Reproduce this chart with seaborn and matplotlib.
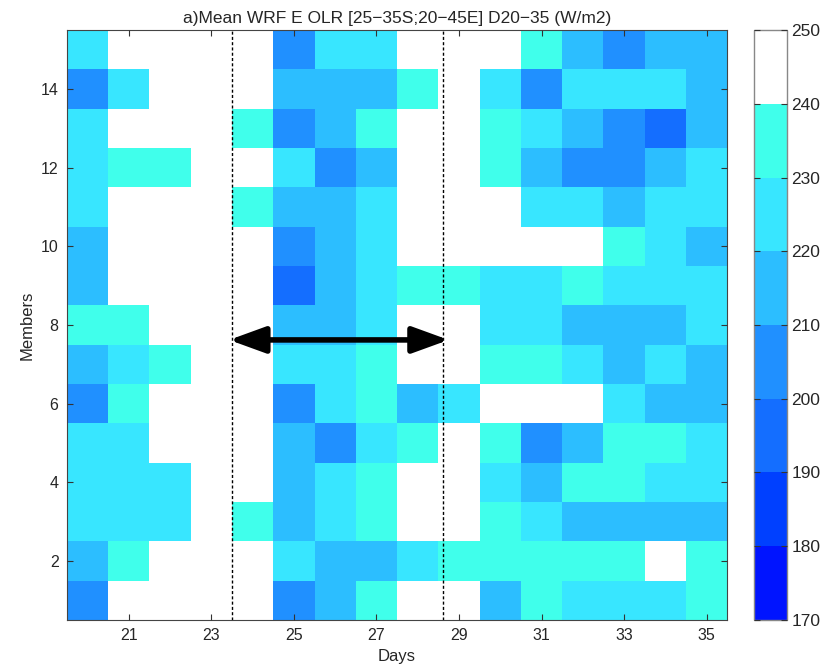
import seaborn as sns
import matplotlib.pyplot as plt
import matplotlib.colors as mcolors
import pandas as pd
import numpy as np

# Days and ensemble members
days = list(range(20, 36))
members = list(range(1, 16))

# Mean OLR (W/m2) per member (rows 1..15), per day (20..35)
olr = [
    [205, 245, 245, 245, 245, 205, 215, 235, 245, 245, 215, 235, 225, 225, 225, 235],  # 1
    [215, 235, 245, 245, 245, 225, 215, 215, 225, 235, 235, 235, 235, 235, 245, 235],  # 2
    [225, 225, 225, 245, 235, 215, 225, 235, 245, 245, 235, 225, 215, 215, 215, 215],  # 3
    [225, 225, 225, 245, 245, 215, 225, 235, 245, 245, 225, 215, 235, 235, 225, 225],  # 4
    [225, 225, 245, 245, 245, 215, 205, 225, 235, 245, 235, 205, 215, 235, 235, 225],  # 5
    [205, 235, 245, 245, 245, 205, 225, 235, 215, 225, 245, 245, 245, 225, 215, 215],  # 6
    [215, 225, 235, 245, 245, 225, 225, 235, 245, 245, 235, 235, 225, 215, 225, 215],  # 7
    [235, 235, 245, 245, 245, 215, 215, 225, 245, 245, 225, 225, 215, 215, 215, 225],  # 8
    [215, 245, 245, 245, 245, 195, 215, 225, 235, 235, 225, 225, 235, 225, 225, 225],  # 9
    [215, 245, 245, 245, 245, 205, 215, 225, 245, 245, 245, 245, 245, 235, 225, 215],  # 10
    [225, 245, 245, 245, 235, 215, 215, 225, 245, 245, 245, 225, 225, 215, 225, 225],  # 11
    [225, 235, 235, 245, 245, 225, 205, 215, 245, 245, 235, 215, 205, 205, 215, 225],  # 12
    [225, 245, 245, 245, 235, 205, 215, 235, 245, 245, 235, 225, 215, 205, 195, 215],  # 13
    [205, 225, 245, 245, 245, 215, 215, 215, 235, 245, 225, 205, 225, 225, 225, 215],  # 14
    [225, 245, 245, 245, 245, 205, 225, 225, 245, 245, 245, 235, 215, 205, 215, 215],  # 15
]

levels = list(range(170, 260, 10))
level_colors = ['#0014ff', '#0040ff', '#146eff', '#2090ff', '#2cbeff',
                '#38e6ff', '#40ffeb', '#ffffff']

# Window marked on the chart (days)
window_start = 23.5
window_end = 28.6
arrow_member = 7.62

df = pd.DataFrame(olr, index=members, columns=days)

sns.set_style("ticks")
plt.rcParams['font.family'] = ['Liberation Sans', 'DejaVu Sans']

fig = plt.figure(figsize=(8.36, 6.68), dpi=100)
ax = fig.add_axes([0.080, 0.072, 0.790, 0.883])
cax = fig.add_axes([0.902, 0.072, 0.039, 0.883])

cmap = mcolors.ListedColormap(level_colors)
norm = mcolors.BoundaryNorm(levels, cmap.N)

sns.heatmap(df, cmap=cmap, norm=norm, ax=ax, cbar_ax=cax,
            xticklabels=False, yticklabels=False)

# member 1 at the bottom
ax.set_ylim(0, len(members))
ax.set_xlim(0, len(days))
ax.set_axisbelow(False)

# ticks like the original
xt = [d for d in days if d % 2 == 1]
yt = [m for m in members if m % 2 == 0]
ax.set_xticks([days.index(d) + 0.5 for d in xt])
ax.set_xticklabels([str(d) for d in xt], fontsize=11.5)
ax.set_yticks([members.index(m) + 0.5 for m in yt])
ax.set_yticklabels([str(m) for m in yt], fontsize=11.5, rotation=0)
ax.tick_params(direction='in', length=4, top=True, right=True, width=0.8,
               color='#333333', pad=6)
for s in ax.spines.values():
    s.set_visible(True)
    s.set_color('#444444')
    s.set_linewidth(0.8)

ax.set_xlabel('Days', fontsize=12)
ax.set_ylabel('Members', fontsize=12)
ax.set_title('a)Mean WRF E OLR [25\u221235S;20\u221245E] D20\u221235 (W/m2)', fontsize=12.5, pad=5)

# dashed window lines and double arrow
x0 = window_start - days[0] + 0.5
x1 = window_end - days[0] + 0.5
for xv in [x0, x1]:
    ax.axvline(xv, color='black', linestyle=(0, (2.2, 1.6)), linewidth=1)
ya = arrow_member - 0.5
ax.annotate('', xy=(x0 - 0.07, ya), xytext=(x1 + 0.15, ya),
            arrowprops=dict(arrowstyle='<|-|>,head_length=1.1,head_width=0.4',
                            mutation_scale=20, lw=4, color='black',
                            shrinkA=0, shrinkB=0))

# colorbar
cax.set_yticks(levels)
cax.set_yticklabels([str(v) for v in levels], fontsize=12.5)
cax.set_axisbelow(False)
cax.tick_params(direction='in', length=4, left=True, right=True, width=0.8,
                color='#333333')
cb = ax.collections[0].colorbar
cb.outline.set_edgecolor('#888888')
cb.outline.set_linewidth(1)

plt.savefig('out.png', dpi=100)
